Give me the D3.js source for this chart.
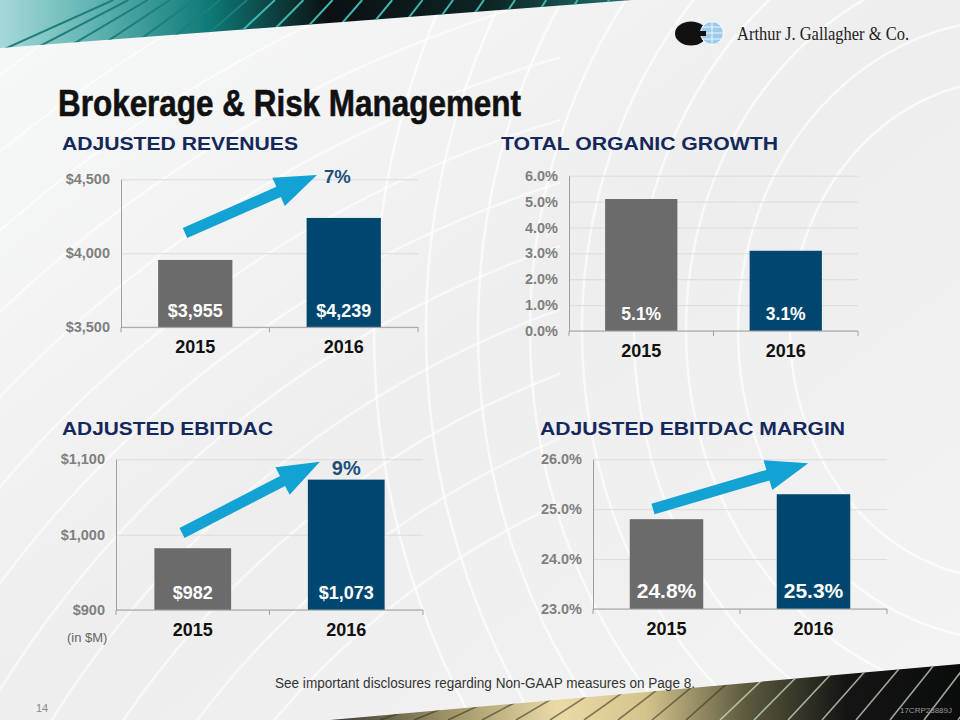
<!DOCTYPE html>
<html>
<head>
<meta charset="utf-8">
<script src="https://cdn.jsdelivr.net/npm/d3@7"></script>
<style>
  body { margin: 0; background: #fff; }
  svg { display: block; }
</style>
</head>
<body>
<div id="chart"></div>
<script>
// data
var years = ["2015", "2016"];
var revenues = [3955, 4239];
var organicGrowth = [5.1, 3.1];
var ebitdac = [982, 1073];
var ebitdacMargin = [24.8, 25.3];

var revenueTicks = [3500, 4000, 4500];
var growthTicks = [0, 1, 2, 3, 4, 5, 6];
var ebitdacTicks = [900, 1000, 1100];
var marginTicks = [23, 24, 25, 26];

var panelTitles = ["ADJUSTED REVENUES", "TOTAL ORGANIC GROWTH", "ADJUSTED EBITDAC", "ADJUSTED EBITDAC MARGIN"];
var growthLabels = ["7%", null, "9%", null];

var barColors = ["#6b6b6b", "#00476f"];
var navy = "#14285b";

// svg params
var svgWidth = 960;
var svgHeight = 720;

var svg = d3.select("#chart")
    .append("svg")
    .attr("width", svgWidth)
    .attr("height", svgHeight);

var defs = svg.append("defs");

// background
var bgGrad = defs.append("linearGradient").attr("id", "bg")
    .attr("x1", 0).attr("y1", 0).attr("x2", 1).attr("y2", 1);
bgGrad.append("stop").attr("offset", 0).attr("stop-color", "#f7f8f8");
bgGrad.append("stop").attr("offset", 0.5).attr("stop-color", "#eeeeee");
bgGrad.append("stop").attr("offset", 1).attr("stop-color", "#f3f3f3");

svg.append("rect")
    .attr("width", svgWidth)
    .attr("height", svgHeight)
    .attr("fill", "url(#bg)");

// faint swirl lines, right side
var swirl = svg.append("g").attr("fill", "none").attr("stroke", "#ffffff").attr("stroke-width", 2.5).attr("opacity", 0.7);
d3.range(0, 9).forEach(function(i) {
    swirl.append("ellipse")
        .attr("cx", 1010)
        .attr("cy", 330)
        .attr("rx", 220 + i * 52)
        .attr("ry", 250 + i * 60);
});
// diagonal swirl lines, left side
defs.append("clipPath").attr("id", "leftClip")
    .append("rect").attr("x", 0).attr("y", 0).attr("width", 560).attr("height", 720);
var swirlLeft = svg.append("g").attr("clip-path", "url(#leftClip)")
    .attr("fill", "none").attr("stroke", "#ffffff").attr("stroke-width", 2.5).attr("opacity", 0.6);
d3.range(0, 14).forEach(function(i) {
    swirlLeft.append("circle")
        .attr("cx", 900)
        .attr("cy", 1250)
        .attr("r", 820 + i * 60);
});

// top band
var topGrad = defs.append("linearGradient").attr("id", "topBand")
    .attr("gradientUnits", "userSpaceOnUse")
    .attr("x1", 0).attr("y1", 0).attr("x2", 632).attr("y2", 0);
[[0, "#a5d9d8"], [0.15, "#5fb3b1"], [0.33, "#0e7b78"], [0.52, "#0b1012"], [0.78, "#0d2525"], [1, "#1f7470"]].forEach(function(s) {
    topGrad.append("stop").attr("offset", s[0]).attr("stop-color", s[1]);
});
defs.append("clipPath").attr("id", "topClip")
    .append("path").attr("d", "M0,0 L632,0 L0,48 Z");
svg.append("path").attr("d", "M0,0 L632,0 L0,48 Z").attr("fill", "url(#topBand)");
var topStripes = svg.append("g").attr("clip-path", "url(#topClip)")
    .attr("stroke-width", 2).attr("fill", "none");
d3.range(0, 22).forEach(function(i) {
    var x = -20 + i * 33;
    var slope = 0.45 + i * 0.07;
    topStripes.append("line")
        .attr("x1", x).attr("y1", 60)
        .attr("x2", x + 60 / slope).attr("y2", 0)
        .attr("stroke", i < 7 ? "#1f7e7c" : "#3fb6b1");
});

// bottom band
var botGrad = defs.append("linearGradient").attr("id", "botBand")
    .attr("gradientUnits", "userSpaceOnUse")
    .attr("x1", 330).attr("y1", 0).attr("x2", 960).attr("y2", 0);
[[0, "#3a3a34"], [0.18, "#9a9064"], [0.36, "#eadaa6"], [0.5, "#d6c48d"], [0.66, "#5c5a3e"], [0.82, "#141514"], [1, "#0a0b0b"]].forEach(function(s) {
    botGrad.append("stop").attr("offset", s[0]).attr("stop-color", s[1]);
});
defs.append("clipPath").attr("id", "botClip")
    .append("path").attr("d", "M330,720 L960,664 L960,720 Z");
svg.append("path").attr("d", "M330,720 L960,664 L960,720 Z").attr("fill", "url(#botBand)");
var botStripes = svg.append("g").attr("clip-path", "url(#botClip)")
    .attr("stroke-width", 1.6).attr("fill", "none");
d3.range(0, 20).forEach(function(i) {
    var x = 380 + i * 34;
    var slope = 0.35 + i * 0.06;
    botStripes.append("line")
        .attr("x1", x).attr("y1", 720)
        .attr("x2", x + 70 / slope).attr("y2", 650)
        .attr("stroke", i < 10 ? "#2e2b1e" : "#d8e6cf")
        .attr("opacity", i < 10 ? 0.55 : 0.7);
});

// logo
var logo = svg.append("g");
logo.append("ellipse").attr("cx", 691).attr("cy", 33.5).attr("rx", 16).attr("ry", 12).attr("fill", "#111");
logo.append("circle").attr("cx", 712).attr("cy", 33).attr("r", 11.5).attr("fill", "#9fcbea").attr("stroke", "#fff").attr("stroke-width", 1);
logo.append("path").attr("d", "M712,21.5 V44.5 M700.5,33 H723.5 M702,27 H722 M702,39 H722").attr("stroke", "#fff").attr("stroke-width", 0.8);
logo.append("rect").attr("x", 693).attr("y", 31).attr("width", 13).attr("height", 5).attr("fill", "#111");
logo.append("text")
    .attr("x", 737).attr("y", 40)
    .attr("font-family", "Liberation Serif, serif")
    .attr("font-size", 18)
    .attr("textLength", 172)
    .attr("lengthAdjust", "spacingAndGlyphs")
    .attr("fill", "#222")
    .text("Arthur J. Gallagher & Co.");

// main title
svg.append("text")
    .attr("x", 58).attr("y", 116)
    .attr("font-family", "Liberation Sans Narrow, Arial Narrow, sans-serif")
    .attr("font-weight", "bold")
    .attr("font-size", 36)
    .attr("textLength", 463)
    .attr("lengthAdjust", "spacingAndGlyphs")
    .attr("fill", "#111")
    .attr("stroke", "#111")
    .attr("stroke-width", 0.6)
    .text("Brokerage & Risk Management");

// panels
var panels = [
    { values: revenues, ticks: revenueTicks, domain: [3500, 4500], fmt: function(v) { return "$" + d3.format(",")(v); },
      x0: 121, x1: 418, yTop: 179.3, yBot: 327.3, titleX: 62, titleY: 150, titleW: 236, labelSize: 18,
      arrow: [0.2155, 0.363, 0.66, -0.029], pctDx: 7, pctDy: 8, pctSize: 18.5 },
    { values: organicGrowth, ticks: growthTicks, domain: [0, 6], fmt: function(v) { return d3.format(".1f")(v) + "%"; },
      x0: 569, x1: 858, yTop: 175.7, yBot: 331, titleX: 501, titleY: 150, titleW: 277, labelSize: 17.5,
      arrow: null },
    { values: ebitdac, ticks: ebitdacTicks, domain: [900, 1100], fmt: function(v) { return "$" + d3.format(",")(v); },
      x0: 116, x1: 423, yTop: 459.3, yBot: 610, titleX: 62, titleY: 435, titleW: 211, labelSize: 18,
      arrow: [0.215, 0.489, 0.664, 0.016], pctDx: 12, pctDy: 13.5, pctSize: 20 },
    { values: ebitdacMargin, ticks: marginTicks, domain: [23, 26], fmt: function(v) { return d3.format(".1f")(v) + "%"; },
      x0: 593, x1: 887, yTop: 459.3, yBot: 609, titleX: 540, titleY: 435, titleW: 305, labelSize: 21,
      arrow: [0.204, 0.332, 0.732, 0.027] }
];

function arrowPath(x1, y1, x2, y2) {
    var sw = 11, hw = 31, hl = 42;
    var dx = x2 - x1, dy = y2 - y1, len = Math.sqrt(dx * dx + dy * dy);
    var ux = dx / len, uy = dy / len, nx = -uy, ny = ux;
    var bx = x2 - ux * hl, by = y2 - uy * hl;
    var pts = [
        [x1 + nx * sw / 2, y1 + ny * sw / 2],
        [bx + nx * sw / 2, by + ny * sw / 2],
        [bx + nx * hw / 2, by + ny * hw / 2],
        [x2, y2],
        [bx - nx * hw / 2, by - ny * hw / 2],
        [bx - nx * sw / 2, by - ny * sw / 2],
        [x1 - nx * sw / 2, y1 - ny * sw / 2]
    ];
    return "M" + pts.map(function(p) { return p[0] + "," + p[1]; }).join("L") + "Z";
}

panels.forEach(function(p, pi) {
    var W = p.x1 - p.x0;
    var H = p.yBot - p.yTop;
    var g = svg.append("g").attr("transform", `translate(${p.x0}, ${p.yTop})`);

    // title
    svg.append("text")
        .attr("x", p.titleX).attr("y", p.titleY)
        .attr("font-family", "Liberation Sans, Arial, sans-serif")
        .attr("font-weight", "bold")
        .attr("font-size", 19)
        .attr("textLength", p.titleW)
        .attr("lengthAdjust", "spacingAndGlyphs")
        .attr("fill", navy)
        .text(panelTitles[pi]);

    var xScale = d3.scaleBand().domain(years).range([0, W]).paddingInner(0.5).paddingOuter(0.25);
    var yScale = d3.scaleLinear().domain(p.domain).range([H, 0]);

    // gridlines
    g.append("g")
        .call(d3.axisLeft(yScale).tickValues(p.ticks).tickSize(-W).tickFormat(""))
        .call(function(s) {
            s.select(".domain").remove();
            s.selectAll("line").attr("stroke", "#dcdcdc").attr("stroke-width", 1);
        });

    // bars
    g.selectAll("rect.bar")
        .data(p.values)
        .enter()
        .append("rect")
        .attr("class", "bar")
        .attr("x", function(d, i) { return xScale(years[i]); })
        .attr("y", function(d) { return yScale(d); })
        .attr("width", xScale.bandwidth())
        .attr("height", function(d) { return H - yScale(d); })
        .attr("fill", function(d, i) { return barColors[i]; });

    // bar labels
    g.selectAll("text.val")
        .data(p.values)
        .enter()
        .append("text")
        .attr("class", "val")
        .attr("x", function(d, i) { return xScale(years[i]) + xScale.bandwidth() / 2; })
        .attr("y", H - 10.5)
        .attr("text-anchor", "middle")
        .attr("font-family", "Liberation Sans, Arial, sans-serif")
        .attr("font-weight", "bold")
        .attr("font-size", p.labelSize)
        .attr("fill", "#fff")
        .text(function(d) { return p.fmt(d); });

    // y axis
    g.append("g")
        .call(d3.axisLeft(yScale).tickValues(p.ticks).tickSize(0).tickPadding(11).tickFormat(p.fmt))
        .call(function(s) {
            s.select(".domain").attr("stroke", "#a0a0a0");
            s.selectAll("text")
                .attr("font-family", "Liberation Sans, Arial, sans-serif")
                .attr("font-weight", "bold")
                .attr("font-size", 14.5)
                .attr("fill", "#7f7f7f");
        });

    // x axis
    g.append("g")
        .attr("transform", `translate(0, ${H})`)
        .call(d3.axisBottom(xScale).tickSize(0).tickPadding(13))
        .call(function(s) {
            s.select(".domain").attr("stroke", "#a0a0a0").attr("d", "M0,0H" + W);
            s.selectAll("text")
                .attr("font-family", "Liberation Sans, Arial, sans-serif")
                .attr("font-weight", "bold")
                .attr("font-size", 18)
                .attr("fill", "#111");
        });
    g.selectAll("line.sep")
        .data([0, W / 2, W])
        .enter()
        .append("line")
        .attr("class", "sep")
        .attr("x1", function(d) { return d; })
        .attr("x2", function(d) { return d; })
        .attr("y1", H).attr("y2", H + 5)
        .attr("stroke", "#a0a0a0");

    // growth arrow
    if (p.arrow) {
        var a = p.arrow;
        var tx = a[2] * W, ty = a[3] * H;
        g.append("path")
            .attr("d", arrowPath(a[0] * W, a[1] * H, tx, ty))
            .attr("fill", "#12a2d3");
        if (growthLabels[pi]) {
            g.append("text")
                .attr("x", tx + p.pctDx)
                .attr("y", ty + p.pctDy)
                .attr("font-family", "Liberation Sans, Arial, sans-serif")
                .attr("font-weight", "bold")
                .attr("font-size", p.pctSize)
                .attr("fill", "#1d4f7d")
                .text(growthLabels[pi]);
        }
    }
});

// (in $M)
svg.append("text")
    .attr("x", 67).attr("y", 642)
    .attr("font-family", "Liberation Sans, Arial, sans-serif")
    .attr("font-size", 13)
    .attr("fill", "#666")
    .text("(in $M)");

// footer
svg.append("text")
    .attr("x", 275).attr("y", 688)
    .attr("font-family", "Liberation Sans Narrow, Arial Narrow, sans-serif")
    .attr("font-size", 14)
    .attr("textLength", 420)
    .attr("lengthAdjust", "spacingAndGlyphs")
    .attr("fill", "#333")
    .text("See important disclosures regarding Non-GAAP measures on Page 8.");

svg.append("text")
    .attr("x", 36).attr("y", 712)
    .attr("font-family", "Liberation Sans, Arial, sans-serif")
    .attr("font-size", 11)
    .attr("fill", "#8a8a8a")
    .text("14");

svg.append("text")
    .attr("x", 952).attr("y", 713)
    .attr("text-anchor", "end")
    .attr("font-family", "Liberation Sans Narrow, Arial Narrow, sans-serif")
    .attr("font-size", 8)
    .attr("fill", "#9a9a9a")
    .text("17CRP23889J");
</script>
</body>
</html>
